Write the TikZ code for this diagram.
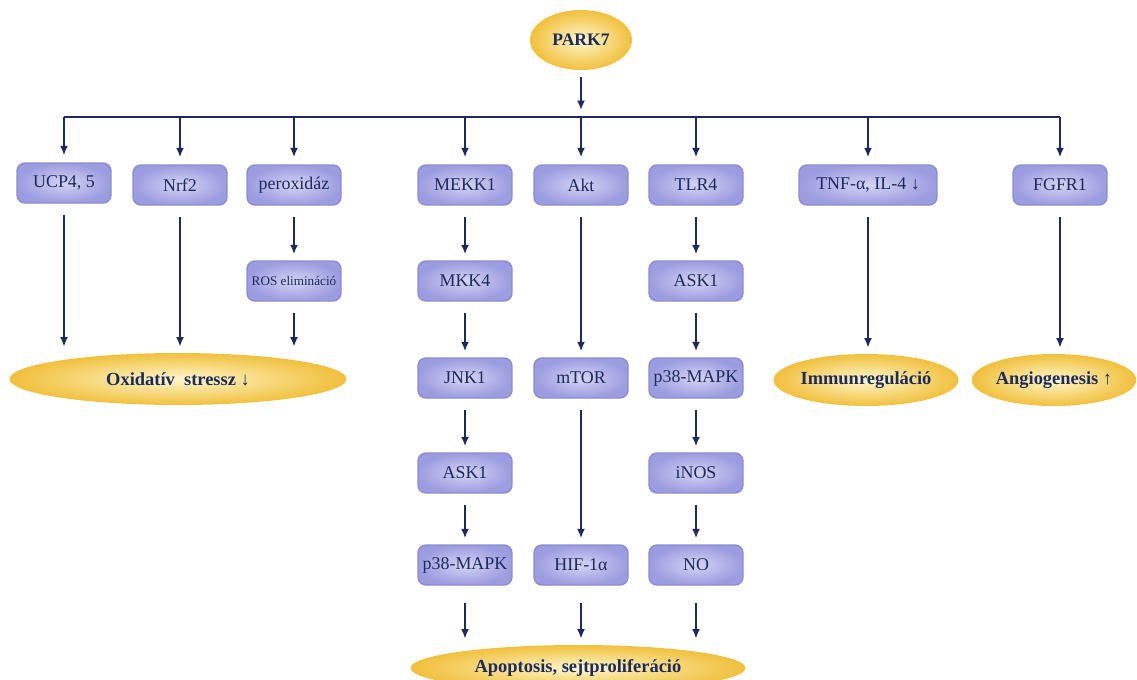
\documentclass[tikz,border=0pt]{standalone}
\usepackage{fontspec}
\setmainfont{Liberation Serif}
\usetikzlibrary{shapes.geometric, arrows.meta, positioning}
\definecolor{mynavy}{HTML}{1C2A5C}
\definecolor{myviolet}{HTML}{9C9CE0}
\definecolor{myvioletlight}{HTML}{D4D4F5}
\definecolor{myvioletedge}{HTML}{8C8CD2}
\definecolor{mygold}{HTML}{F1C03C}
\definecolor{mygoldlight}{HTML}{FFF7CC}
\tikzset{
	boxnode/.style={
			rectangle,
			rounded corners=1.6mm,
			draw=myvioletedge,
			thick,
			inner color=myvioletlight,
			outer color=myviolet,
			minimum width=1.88cm,
			minimum height=0.8cm,
			inner sep=1pt,
			text=mynavy,
			font=\fontsize{10.2}{12}\selectfont
		},
	smallboxnode/.style={
			boxnode,
			font=\fontsize{7.5}{9}\selectfont
		},
	endnode/.style={
			ellipse,
			inner color=mygoldlight,
			outer color=mygold,
			minimum height=1.04cm,
			inner sep=0pt,
			text=mynavy,
			font=\bfseries\fontsize{10.5}{12}\selectfont
		},
	busline/.style={
			draw=mynavy,
			line width=1.2pt
		},
	arr/.style={
			busline,
			-{Latex[length=1.9mm,width=1.6mm]}
		},
	flow/.style={
			arr,
			shorten <=0.22cm,
			shorten >=0.12cm
		}
}

\begin{document}
\begin{tikzpicture}[x=0.02cm, y=-0.02cm]
\useasboundingbox (0,0) rectangle (1137,680);
\node[endnode, minimum width=2.04cm, minimum height=1.2cm, font=\bfseries\fontsize{10}{12}\selectfont] (park) at (581,40) {PARK7};

% bus
\coordinate (bus1) at (64,117);
\coordinate (bus2) at (180,117);
\coordinate (bus3) at (294,117);
\coordinate (bus4) at (465,117);
\coordinate (bus5) at (581,117);
\coordinate (bus6) at (696,117);
\coordinate (bus7) at (868,117);
\coordinate (bus8) at (1060,117);

% first row
\node[boxnode] (ucp) at (64,183) {UCP4, 5};
\node[boxnode] (nrf) at (180,185) {Nrf2};
\node[boxnode] (perox) at (294,185) {peroxidáz};
\node[boxnode] (mekk) at (465,185) {MEKK1};
\node[boxnode] (akt) at (581,185) {Akt};
\node[boxnode] (tlr) at (696,185) {TLR4};
\node[boxnode, minimum width=2.76cm] (tnf) at (868,185) {TNF-α, IL-4 ↓};
\node[boxnode] (fgfr) at (1060,185) {FGFR1};

% chains
\node[smallboxnode] (ros) at (294,281) {ROS elimináció};
\node[boxnode] (mkk) at (465,281) {MKK4};
\node[boxnode] (jnk) at (465,378) {JNK1};
\node[boxnode] (askA) at (465,473) {ASK1};
\node[boxnode] (pA) at (465,565) {p38-MAPK};
\node[boxnode] (mtor) at (581,378) {mTOR};
\node[boxnode] (hif) at (581,565) {HIF-1α};
\node[boxnode] (askB) at (696,281) {ASK1};
\node[boxnode] (pB) at (696,378) {p38-MAPK};
\node[boxnode] (inos) at (696,473) {iNOS};
\node[boxnode] (no) at (696,565) {NO};

% outcomes
\node[endnode, minimum width=6.74cm] (oxi) at (178,379) {Oxidatív\ \ stressz ↓};
\node[endnode, minimum width=3.24cm] (imm) at (866,380) {Immunreguláció};
\node[endnode, minimum width=3.28cm] (ang) at (1054,380) {Angiogenesis ↑};
\node[endnode, minimum width=6.7cm, minimum height=0.92cm] (apo) at (578,668) {Apoptosis, sejtproliferáció};

\draw[arr, shorten <=0.14cm, shorten >=0.14cm] (park) -- (bus5);
\draw[busline] (bus1) -- (bus8);
\foreach \b/\n in {bus1/ucp, bus2/nrf, bus3/perox, bus4/mekk, bus5/akt, bus6/tlr, bus7/tnf, bus8/fgfr}
	\draw[arr, shorten >=0.14cm] (\b) -- (\b |- \n.north);

\draw[flow] (ucp.south) -- (ucp.south |- oxi.north);
\draw[flow] (nrf.south) -- (nrf.south |- oxi.north);
\draw[flow] (perox) -- (ros);
\draw[flow] (ros.south) -- (ros.south |- oxi.north);

\draw[flow] (mekk) -- (mkk);
\draw[flow] (mkk) -- (jnk);
\draw[flow] (jnk) -- (askA);
\draw[flow] (askA) -- (pA);
\draw[flow, shorten <=0.34cm] (pA.south) -- (pA.south |- apo.north);

\draw[flow] (akt) -- (mtor);
\draw[flow] (mtor) -- (hif);
\draw[flow, shorten <=0.34cm] (hif.south) -- (hif.south |- apo.north);

\draw[flow] (tlr) -- (askB);
\draw[flow] (askB) -- (pB);
\draw[flow] (pB) -- (inos);
\draw[flow] (inos) -- (no);
\draw[flow, shorten <=0.34cm] (no.south) -- (no.south |- apo.north);

\draw[flow] (tnf.south) -- (tnf.south |- imm.north);
\draw[flow] (fgfr.south) -- (fgfr.south |- ang.north);
\end{tikzpicture}
\end{document}
